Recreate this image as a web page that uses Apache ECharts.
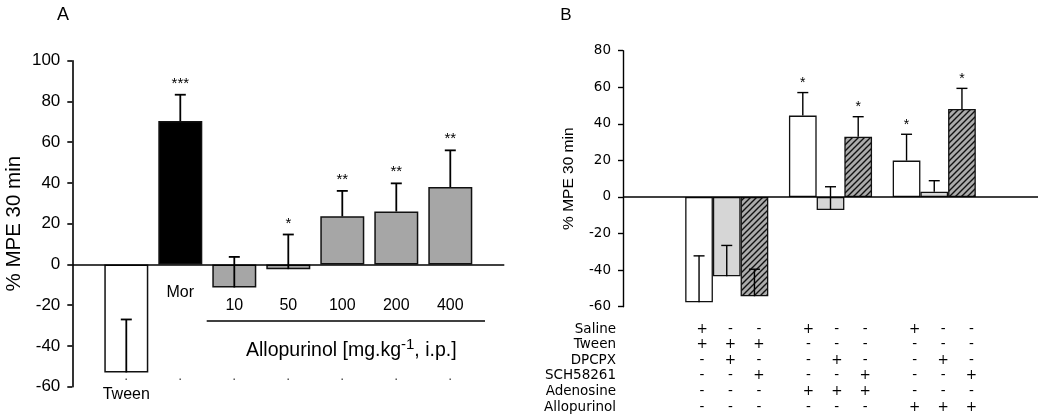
<!DOCTYPE html>
<html><head><meta charset="utf-8">
<script src="https://cdn.jsdelivr.net/npm/echarts@6/dist/echarts.min.js"></script>
<style>html,body{margin:0;padding:0;background:#fff}#c{width:1039px;height:416px}</style>
</head><body><div id="c"></div>
<script>
// ---------- Panel A data ----------
const catsA = ['Tween', 'Mor', '10', '50', '100', '200', '400'];
const valuesA = [-53, 70.4, -11.3, -2.3, 23.6, 26, 38];
const errA = [26, 12.9, 15, 17, 12.5, 13.8, 18];
const sigA = ['', '***', '', '*', '**', '**', '**'];
const doseTitle = 'Allopurinol [mg.kg';
const doseSup = '-1';
const doseTail = ', i.p.]';
// ---------- Panel B data ----------
const groupsB = ['Saline', 'Adenosine', 'Allopurinol'];
const seriesNamesB = ['Vehicle', 'DPCPX', 'SCH58261'];
const vehicleB = [-57.6, 44.5, 19.9];
const vehicleErrB = [25.4, 12.6, 14.4];
const vehicleSigB = ['', '*', '*'];
const dpcpxB = [-43.4, -7.1, 2.9];
const dpcpxErrB = [16.9, 12.7, 6];
const dpcpxSigB = ['', '', ''];
const schB = [-54.3, 33, 48.1];
const schErrB = [14.8, 10.9, 11.3];
const schSigB = ['', '*', '*'];
const tableRows = ['Saline', 'Tween', 'DPCPX', 'SCH58261', 'Adenosine', 'Allopurinol'];
const rowSaline      = ['+','-','-','+','-','-','+','-','-'];
const rowTween       = ['+','+','+','-','-','-','-','-','-'];
const rowDPCPX       = ['-','+','-','-','+','-','-','+','-'];
const rowSCH         = ['-','-','+','-','-','+','-','-','+'];
const rowAdenosine   = ['-','-','-','+','+','+','-','-','-'];
const rowAllopurinol = ['-','-','-','-','-','-','+','+','+'];
const tableData = [rowSaline, rowTween, rowDPCPX, rowSCH, rowAdenosine, rowAllopurinol];

// ---------- styles ----------
const SANS = 'Liberation Sans, Arial, sans-serif';
const DJV = 'DejaVu Sans, sans-serif';
const colorsA = ['#ffffff', '#000000', '#a6a6a6', '#a6a6a6', '#a6a6a6', '#a6a6a6', '#a6a6a6'];
const BW_B = 27.7;

function hatchCanvas() {
  const c = document.createElement('canvas'); c.width = 6; c.height = 6;
  const g = c.getContext('2d');
  g.fillStyle = '#ababab'; g.fillRect(0, 0, 6, 6);
  g.strokeStyle = '#111'; g.lineWidth = 1.4; g.lineCap = 'square';
  g.beginPath();
  g.moveTo(0, 6); g.lineTo(6, 0);
  g.moveTo(-3, 3); g.lineTo(3, -3);
  g.moveTo(3, 9); g.lineTo(9, 3);
  g.stroke();
  return c;
}
const hatch = { image: hatchCanvas(), repeat: 'repeat' };

const chart = echarts.init(document.getElementById('c'), null, { renderer: 'canvas' });

const xCatsA = [''].concat(catsA, ['']);
const xCatsB = [''].concat(groupsB, ['']);

function errSeries(xi, yi, vals, errs, sigs, offset, sigGap, sigSize, lw) {
  return {
    type: 'custom', xAxisIndex: xi, yAxisIndex: yi, z: 5, silent: true,
    data: vals.map((v, i) => [i + 1, v, errs[i]]),
    renderItem: function (params, api) {
      const x = api.value(0), v = api.value(1), e = api.value(2);
      const p0 = api.coord([x, v]);
      const p1 = api.coord([x, v + e]);
      const cx = p0[0] + offset;
      const ch = [
        { type: 'line', shape: { x1: cx, y1: p0[1], x2: cx, y2: p1[1] }, style: { stroke: '#000', lineWidth: lw } },
        { type: 'line', shape: { x1: cx - 5.5, y1: p1[1], x2: cx + 5.5, y2: p1[1] }, style: { stroke: '#000', lineWidth: lw } }
      ];
      const s = sigs[params.dataIndex];
      if (s) ch.push({ type: 'text', x: cx, y: p1[1] - sigGap,
        style: { text: s, align: 'center', verticalAlign: 'middle', fontSize: sigSize, fontFamily: SANS, fill: '#000' } });
      return { type: 'group', children: ch };
    }
  };
}

const zeroLine = { symbol: 'none', silent: true, label: { show: false },
  lineStyle: { color: '#000', type: 'solid', width: 1.5 }, data: [{ yAxis: 0 }] };

const option = {
  animation: false,
  backgroundColor: '#fff',
  grid: [
    { left: 72.3, top: 60.7, width: 432, height: 326 },
    { left: 623, top: 50.7, width: 415, height: 256 }
  ],
  xAxis: [
    { gridIndex: 0, type: 'category', data: xCatsA, boundaryGap: false,
      axisLine: { show: false }, axisTick: { show: false }, splitLine: { show: false },
      axisLabel: { interval: 0, formatter: v => (v ? '.' : ''), margin: -4, verticalAlign: 'bottom',
        fontSize: 14, color: '#444', fontFamily: SANS } },
    { gridIndex: 1, type: 'category', data: xCatsB, boundaryGap: false, show: false }
  ],
  yAxis: [
    { gridIndex: 0, type: 'value', min: -60, max: 100, interval: 20,
      axisLine: { show: true, lineStyle: { color: '#000', width: 1.6 } },
      axisTick: { show: true, length: 5, lineStyle: { color: '#000', width: 1.6 } },
      splitLine: { show: false },
      axisLabel: { color: '#000', fontSize: 17, fontFamily: SANS, margin: 12 },
      name: '% MPE 30 min', nameLocation: 'middle', nameRotate: 90, nameGap: 47,
      nameTextStyle: { color: '#000', fontSize: 20.5, fontFamily: SANS } },
    { gridIndex: 1, type: 'value', min: -60, max: 80, interval: 20,
      axisLine: { show: true, lineStyle: { color: '#000', width: 1.4 } },
      axisTick: { show: true, length: 5, lineStyle: { color: '#000', width: 1.4 } },
      splitLine: { show: false },
      axisLabel: { color: '#000', fontSize: 13.5, fontFamily: DJV, margin: 12 },
      name: '% MPE 30 min', nameLocation: 'middle', nameRotate: 90, nameGap: 46,
      nameTextStyle: { color: '#000', fontSize: 15.5, fontFamily: SANS } }
  ],
  series: [
    { type: 'bar', xAxisIndex: 0, yAxisIndex: 0, barWidth: 44, z: 2,
      data: [null].concat(valuesA.map((v, i) => ({ value: v, itemStyle: { color: colorsA[i] } })), [null]),
      itemStyle: { borderColor: '#111', borderWidth: 1.5 },
      markLine: zeroLine },
    errSeries(0, 0, valuesA, errA, sigA, 0, 11, 15, 1.8),
    { type: 'bar', name: seriesNamesB[0], xAxisIndex: 1, yAxisIndex: 1, barWidth: BW_B, barGap: '0%', z: 2,
      data: [null].concat(vehicleB, [null]),
      itemStyle: { color: '#ffffff', borderColor: '#111', borderWidth: 1.3 }, markLine: zeroLine },
    { type: 'bar', name: seriesNamesB[1], xAxisIndex: 1, yAxisIndex: 1, barWidth: BW_B, barGap: '0%', z: 2,
      data: [null].concat(dpcpxB, [null]),
      itemStyle: { color: '#d6d6d6', borderColor: '#111', borderWidth: 1.3 } },
    { type: 'bar', name: seriesNamesB[2], xAxisIndex: 1, yAxisIndex: 1, barWidth: BW_B, barGap: '0%', z: 2,
      data: [null].concat(schB, [null]),
      itemStyle: { color: hatch, borderColor: '#111', borderWidth: 1.3 } },
    errSeries(1, 1, vehicleB, vehicleErrB, vehicleSigB, -BW_B, 9.5, 14, 1.4),
    errSeries(1, 1, dpcpxB, dpcpxErrB, dpcpxSigB, 0, 9.5, 14, 1.4),
    errSeries(1, 1, schB, schErrB, schSigB, BW_B, 9.5, 14, 1.4)
  ]
};
chart.setOption(option);

// ---------- annotations positioned from the axes ----------
const pxA = i => chart.convertToPixel({ gridIndex: 0 }, [i, 0])[0];
const pxB = i => chart.convertToPixel({ gridIndex: 1 }, [i, 0])[0];
const g = [];
function txt(x, y, text, size, family, align, extra) {
  g.push(Object.assign({ type: 'text', x: x, y: y, silent: true,
    style: { text: text, fontSize: size, fontFamily: family, fill: '#000', align: align || 'center', verticalAlign: 'middle' } }, extra || {}));
}
txt(63, 15, 'A', 18, SANS);
txt(pxA(1), 395, catsA[0], 16, SANS);
txt(pxA(2), 293, catsA[1], 16, SANS);
for (let i = 2; i < catsA.length; i++) txt(pxA(i + 1), 306, catsA[i], 16, SANS);
g.push({ type: 'line', silent: true, shape: { x1: pxA(3) - 27.6, y1: 321, x2: pxA(7) + 34.7, y2: 321 },
  style: { stroke: '#000', lineWidth: 1.5 } });
g.push({ type: 'text', silent: true, x: (pxA(3) + pxA(7)) / 2 + 9, y: 349,
  style: { text: '{n|' + doseTitle + '}{s|' + doseSup + '}{n|' + doseTail + '}', align: 'center', verticalAlign: 'middle',
    rich: { n: { fontSize: 19.5, fontFamily: SANS, fill: '#000', verticalAlign: 'bottom' },
            s: { fontSize: 15, fontFamily: SANS, fill: '#000', verticalAlign: 'top', padding: [0, 0, 8, 0] } } } });

txt(566, 15, 'B', 17, SANS);
const rowY0 = 329, rowDY = 15.65;
tableRows.forEach((r, k) => txt(616, rowY0 + k * rowDY, r, 13.5, DJV, 'right'));
tableData.forEach((row, k) => {
  row.forEach((s, j) => {
    const grp = Math.floor(j / 3) + 1, sub = j % 3 - 1;
    const cx = pxB(grp) + sub * BW_B;
    const x = cx + 3 + (cx - pxB(1) + BW_B) * 0.025;
    txt(x, rowY0 + k * rowDY, s, 13.5, DJV);
  });
});
chart.setOption({ graphic: { elements: g } });
</script>
</body></html>
